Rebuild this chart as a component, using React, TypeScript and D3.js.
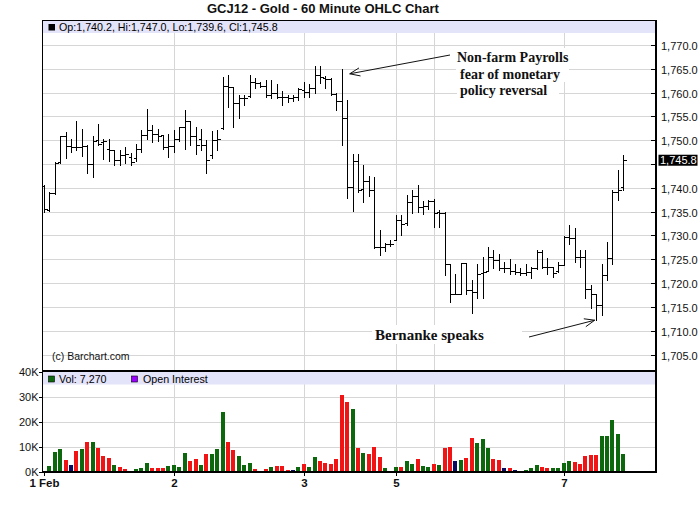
import React from "react";
import * as d3 from "d3";

// Hourly OHLC bars, GCJ12 (COMEX gold, April 2012), 1 Feb - 7 Feb 2012
const opens = [
  1740.4, 1735.4, 1738.9, 1745.4, 1750.8, 1748.8, 1748.6, 1748.5, 1748.8, 1745.0,
  1750.0, 1749.6, 1748.2, 1747.9, 1745.9, 1746.8, 1746.5, 1746.2, 1748.2, 1751.0,
  1752.2, 1751.3, 1751.0, 1748.6, 1748.8, 1750.2, 1752.7, 1754.0, 1750.8, 1750.3,
  1749.0, 1746.8, 1750.1, 1752.6, 1761.3, 1761.1, 1757.8, 1758.9, 1759.2, 1762.3,
  1762.0, 1761.4, 1759.6, 1760.0, 1759.1, 1759.1, 1758.9, 1759.1, 1760.5, 1760.2,
  1760.9, 1763.8, 1763.0, 1762.8, 1759.7, 1758.2, 1754.7, 1740.2, 1745.6, 1739.8,
  1741.4, 1739.6, 1727.6, 1727.6, 1728.3, 1729.0, 1733.2, 1732.6, 1737.0, 1738.2,
  1736.0, 1736.2, 1737.3, 1735.0, 1734.8, 1724.0, 1717.8, 1717.8, 1724.3, 1718.5,
  1718.2, 1722.2, 1722.6, 1725.4, 1724.8, 1723.1, 1723.1, 1722.6, 1722.4, 1722.2,
  1722.4, 1723.1, 1726.6, 1723.4, 1723.4, 1722.6, 1723.8, 1729.7, 1729.4, 1725.5,
  1725.4, 1718.7, 1717.7, 1715.4, 1721.7, 1725.2, 1739.2, 1740.2,
];
const highs = [
  1740.5, 1739.2, 1745.5, 1750.9, 1751.7, 1750.3, 1754.0, 1752.4, 1749.0, 1750.9,
  1753.4, 1750.3, 1750.2, 1748.0, 1747.9, 1748.5, 1747.3, 1749.3, 1752.2, 1756.6,
  1753.1, 1752.4, 1751.0, 1751.4, 1752.1, 1752.8, 1756.3, 1754.0, 1752.8, 1752.4,
  1750.0, 1752.0, 1752.1, 1763.3, 1763.7, 1761.1, 1759.6, 1759.6, 1763.8, 1763.0,
  1762.3, 1762.7, 1762.7, 1761.9, 1760.3, 1759.6, 1759.5, 1761.0, 1762.3, 1761.8,
  1765.6, 1765.6, 1763.5, 1763.1, 1759.9, 1765.0, 1758.4, 1747.2, 1747.2, 1744.8,
  1742.5, 1742.3, 1731.1, 1728.4, 1729.0, 1734.4, 1734.4, 1738.5, 1739.5, 1740.7,
  1737.3, 1737.5, 1737.6, 1735.3, 1735.0, 1724.1, 1722.0, 1724.3, 1724.3, 1720.6,
  1724.1, 1725.5, 1727.6, 1726.9, 1726.2, 1724.5, 1725.0, 1724.1, 1723.1, 1724.1,
  1723.4, 1726.9, 1726.9, 1725.2, 1723.4, 1724.5, 1729.9, 1732.2, 1731.5, 1726.9,
  1726.9, 1719.6, 1717.8, 1724.1, 1728.7, 1739.5, 1743.7, 1747.0,
];
const lows = [
  1735.0, 1735.1, 1738.8, 1745.2, 1746.2, 1747.5, 1748.0, 1746.6, 1743.2, 1742.3,
  1748.9, 1746.0, 1745.6, 1744.7, 1744.9, 1745.2, 1744.9, 1745.7, 1747.6, 1750.2,
  1749.7, 1749.9, 1748.2, 1746.5, 1747.6, 1749.9, 1748.2, 1749.0, 1747.2, 1747.9,
  1743.1, 1746.2, 1747.9, 1752.4, 1757.0, 1752.8, 1754.7, 1757.5, 1759.0, 1761.0,
  1761.2, 1759.0, 1758.8, 1758.8, 1757.5, 1758.1, 1758.3, 1758.5, 1759.1, 1759.0,
  1760.0, 1762.1, 1761.0, 1759.4, 1756.3, 1749.0, 1737.9, 1735.1, 1739.1, 1737.1,
  1738.3, 1727.4, 1726.0, 1726.8, 1727.8, 1729.0, 1730.0, 1732.3, 1734.7, 1735.0,
  1734.5, 1735.5, 1731.8, 1731.8, 1721.7, 1716.1, 1717.7, 1717.7, 1717.7, 1713.8,
  1716.8, 1716.8, 1722.5, 1723.1, 1722.7, 1722.4, 1722.0, 1722.0, 1721.7, 1721.7,
  1721.0, 1722.9, 1723.1, 1722.0, 1721.3, 1722.4, 1723.8, 1728.3, 1724.5, 1723.4,
  1716.8, 1714.7, 1712.2, 1713.3, 1720.6, 1724.1, 1737.4, 1739.6,
];
const closes = [
  1735.6, 1738.9, 1745.2, 1750.8, 1748.8, 1748.6, 1748.5, 1748.8, 1745.0, 1749.8,
  1749.3, 1749.9, 1747.9, 1745.9, 1746.8, 1747.1, 1745.4, 1748.2, 1751.0, 1752.2,
  1751.3, 1750.8, 1748.6, 1748.8, 1750.2, 1752.7, 1754.0, 1750.8, 1749.0, 1749.0,
  1745.8, 1750.1, 1750.2, 1761.3, 1761.1, 1757.8, 1758.9, 1758.9, 1762.3, 1762.0,
  1761.4, 1759.6, 1760.0, 1759.1, 1759.1, 1758.9, 1759.1, 1760.7, 1760.2, 1760.9,
  1763.8, 1763.3, 1762.8, 1759.7, 1758.2, 1754.7, 1740.2, 1745.6, 1739.5, 1741.4,
  1739.6, 1727.6, 1727.6, 1728.3, 1728.3, 1733.2, 1732.5, 1737.0, 1738.2, 1736.0,
  1736.2, 1737.3, 1734.8, 1734.8, 1724.0, 1717.8, 1717.8, 1724.3, 1718.5, 1718.2,
  1722.0, 1722.4, 1725.4, 1724.8, 1723.1, 1723.1, 1722.6, 1722.4, 1722.2, 1722.4,
  1723.1, 1726.6, 1723.4, 1723.4, 1722.2, 1723.8, 1729.7, 1729.4, 1725.5, 1725.4,
  1718.7, 1717.7, 1715.4, 1721.7, 1725.2, 1739.2, 1739.5, 1745.8,
];

// Contracts traded per hour and the tone of each volume bar (g up, r down, n unchanged)
const volumes = [
  0, 2300, 7900, 8900, 4700, 2700, 8300, 8900, 11900, 11900,
  9500, 6300, 5500, 2700, 1900, 1100, 0, 1100, 1500, 3500,
  1500, 1500, 1500, 2300, 2700, 1900, 7500, 4300, 5100, 2700,
  7100, 7100, 9100, 23900, 11900, 8700, 6300, 2700, 3500, 1100,
  0, 1100, 1900, 2300, 2300, 700, 700, 1900, 3100, 1900,
  5900, 4300, 3500, 3100, 5100, 30800, 27900, 25100, 9500, 7500,
  7100, 9900, 5900, 1500, 0, 1900, 1900, 4300, 3100, 5100,
  2300, 1900, 3100, 2700, 9500, 9900, 4300, 4700, 5500, 13500,
  11500, 13100, 9500, 5100, 4700, 1500, 1500, 700, 0, 700,
  1500, 2700, 1900, 1500, 1500, 1500, 3500, 4300, 3900, 3100,
  6300, 6700, 6700, 14300, 14300, 20700, 15100, 7270,
];
const volumeTones = [
  "n", "g", "g", "g", "r", "n", "r", "g", "r", "g",
  "r", "r", "r", "g", "r", "r", "n", "g", "g", "g",
  "r", "r", "r", "g", "g", "g", "g", "r", "r", "g",
  "r", "g", "g", "g", "r", "r", "g", "g", "g", "r",
  "n", "r", "g", "r", "r", "r", "n", "g", "r", "g",
  "g", "r", "r", "r", "r", "r", "r", "g", "r", "g",
  "r", "r", "r", "g", "n", "g", "r", "g", "g", "r",
  "g", "g", "r", "g", "r", "r", "n", "g", "r", "r",
  "g", "g", "g", "r", "r", "n", "r", "n", "n", "g",
  "g", "g", "r", "r", "g", "g", "g", "g", "r", "r",
  "r", "r", "r", "g", "g", "g", "g", "g",
];

// Session starts (bar index) and their date labels; Monday the 6th has a grid line only
const dayStarts = [0, 24, 48, 65, 72, 96];
const dayLabels = ["1 Feb", "2", "3", "5", "", "7"];

const priceTicks = d3.range(1705, 1771, 5);
const volumeTicks = [0, 10000, 20000, 30000, 40000];

const title = "GCJ12 - Gold - 60 Minute OHLC Chart";
const nfpNote = ["Non-farm Payrolls", "fear of monetary", "policy reversal"];
const bernankeNote = "Bernanke speaks";
const nfpBar = 55;
const bernankeBar = 102;

const SANS = "'Liberation Sans', Arial, Helvetica, sans-serif";
const SERIF = "'Liberation Serif', 'Times New Roman', serif";
const GRID = "#d6d6d6";
const BAND = "#e3e3f9";
const TONE: Record<string, string> = { g: "#0d680d", r: "#f01414", n: "#0a0a5e" };

const L = 42;
const R = 655.5;
const TOP = 20;
const SPLIT = 371;
const BOTTOM = 471.7;

function arrowHead(tx: number, ty: number, fx: number, fy: number, len = 11, spread = 0.38) {
  const a = Math.atan2(fy - ty, fx - tx);
  const p1 = [tx + len * Math.cos(a + spread), ty + len * Math.sin(a + spread)];
  const p2 = [tx + len * Math.cos(a - spread), ty + len * Math.sin(a - spread)];
  return `M${p1[0]},${p1[1]}L${tx},${ty}L${p2[0]},${p2[1]}`;
}

export default function App() {
  const n = opens.length;
  const x = d3.scaleLinear().domain([0, n - 1]).range([43.9, 623.3]);
  const y = d3.scaleLinear().domain([1705, 1770]).range([354.5, 45]);
  const yv = d3.scaleLinear().domain([0, 40000]).range([BOTTOM, 371.7]);
  const fmtPrice = d3.format(",.1f");
  const fmtVol = d3.format(",");

  const last = n - 1;
  const lastY = y(closes[last]);

  const nfpTip: [number, number] = [x(nfpBar) + 8, y(highs[nfpBar]) + 5];
  const nfpTail: [number, number] = [450, 55];
  const bbTip: [number, number] = [x(bernankeBar) - 1.5, y(lows[bernankeBar])];
  const bbTail: [number, number] = [529, 337];

  const px = (i: number) => Math.round(x(i)) + 0.5;

  return (
    <svg
      width={700}
      height={512}
      style={{ position: "absolute", left: 0, top: 0, background: "#fff" }}
      fontFamily={SANS}
    >
      <rect x={0} y={0} width={700} height={512} fill="#fff" />

      <text x={207} y={12.5} fontSize={13} fontWeight="bold" fill="#111">
        {title}
      </text>

      {/* grid */}
      {priceTicks.map((t) => (
        <line key={`hg${t}`} x1={L} x2={R} y1={Math.round(y(t)) + 0.5} y2={Math.round(y(t)) + 0.5} stroke={GRID} />
      ))}
      {volumeTicks.slice(1, 4).map((t) => (
        <line key={`vg${t}`} x1={L} x2={R} y1={Math.round(yv(t)) + 0.5} y2={Math.round(yv(t)) + 0.5} stroke={GRID} />
      ))}
      {dayStarts.slice(1).map((d) => (
        <line key={`dg${d}`} x1={px(d)} x2={px(d)} y1={TOP} y2={BOTTOM} stroke={GRID} />
      ))}

      {/* legend bands */}
      <rect x={L} y={TOP} width={R - L} height={13} fill={BAND} />
      <rect x={L} y={SPLIT + 1} width={R - L} height={12.5} fill={BAND} />

      <rect x={48.5} y={24} width={6.5} height={6.5} fill="#000" />
      <text x={59} y={31} fontSize={10.7} fill="#000">
        {`Op:${fmtPrice(opens[last])}, Hi:${fmtPrice(highs[last])}, Lo:${fmtPrice(lows[last])}, Cl:${fmtPrice(closes[last])}`}
      </text>

      <rect x={48.5} y={376} width={6} height={6} fill={TONE.g} stroke="#000" strokeWidth={0.6} />
      <text x={59} y={382.5} fontSize={10.7} fill="#000">{`Vol: ${fmtVol(volumes[last])}`}</text>
      <rect x={131.5} y={376} width={6} height={6} fill="#9a00ff" stroke="#000" strokeWidth={0.6} />
      <text x={143} y={382.5} fontSize={10.7} fill="#000">Open Interest</text>

      {/* annotations */}
      <rect x={453} y={48} width={122} height={17} fill="#fff" />
      <rect x={456} y={65} width={113} height={17} fill="#fff" />
      <rect x={457} y={82} width={102} height={17} fill="#fff" />
      {nfpNote.map((s, k) => (
        <text
          key={s}
          x={457 + (k > 0 ? 3 : 0)}
          y={62 + k * 16.6}
          fontFamily={SERIF}
          fontWeight="bold"
          fontSize={14}
          fill="#111"
        >
          {s}
        </text>
      ))}
      <line x1={nfpTail[0]} y1={nfpTail[1]} x2={nfpTip[0]} y2={nfpTip[1]} stroke="#111" strokeWidth={1} />
      <path d={arrowHead(nfpTip[0], nfpTip[1], nfpTail[0], nfpTail[1])} fill="none" stroke="#111" strokeWidth={1} />

      <rect x={372} y={325} width={150} height={19} fill="#fff" />
      <text x={375} y={339.5} fontFamily={SERIF} fontWeight="bold" fontSize={15} fill="#111">
        {bernankeNote}
      </text>
      <line x1={bbTail[0]} y1={bbTail[1]} x2={bbTip[0]} y2={bbTip[1]} stroke="#111" strokeWidth={1} />
      <path d={arrowHead(bbTip[0], bbTip[1], bbTail[0], bbTail[1])} fill="none" stroke="#111" strokeWidth={1} />

      {/* OHLC bars */}
      <g stroke="#000" strokeWidth={1} shapeRendering="crispEdges">
        {opens.map((o, i) => {
          const cx = px(i);
          const yo = Math.round(y(o)) + 0.5;
          const yc = Math.round(y(closes[i])) + 0.5;
          return (
            <g key={`b${i}`}>
              <line x1={cx} x2={cx} y1={Math.round(y(highs[i]))} y2={Math.round(y(lows[i])) + 1} />
              <line x1={cx - 3} x2={cx} y1={yo} y2={yo} />
              <line x1={cx} x2={cx + 3} y1={yc} y2={yc} />
            </g>
          );
        })}
      </g>

      <text x={52} y={360} fontSize={10.5} fill="#111">(c) Barchart.com</text>

      {/* volume bars */}
      <g shapeRendering="crispEdges">
        {volumes.map((v, i) =>
          v > 0 ? (
            <rect
              key={`v${i}`}
              x={Math.round(x(i)) - 2}
              y={yv(v)}
              width={4}
              height={yv(0) - yv(v)}
              fill={TONE[volumeTones[i]]}
            />
          ) : null
        )}
      </g>

      {/* frame */}
      <g shapeRendering="crispEdges">
        <line x1={L} x2={R} y1={TOP + 0.5} y2={TOP + 0.5} stroke="#000" />
        <line x1={L + 0.5} x2={L + 0.5} y1={TOP} y2={BOTTOM} stroke="#000" />
        <line x1={R} x2={R} y1={TOP} y2={BOTTOM + 1} stroke="#000" strokeWidth={2} />
        <line x1={L} x2={R} y1={SPLIT} y2={SPLIT} stroke="#000" strokeWidth={2} />
        <line x1={L} x2={R + 1} y1={BOTTOM} y2={BOTTOM} stroke="#000" strokeWidth={2} />
      </g>

      {/* price axis */}
      {priceTicks.map((t) => {
        const ty = Math.round(y(t)) + 0.5;
        const hidden = Math.abs(y(t) - lastY) < 8;
        return (
          <g key={`pt${t}`}>
            <line x1={651} x2={656} y1={ty} y2={ty} stroke="#000" shapeRendering="crispEdges" />
            {!hidden && (
              <text x={661} y={ty + 4} fontSize={11} fill="#111">
                {fmtPrice(t)}
              </text>
            )}
          </g>
        );
      })}
      <rect x={658.5} y={lastY - 5.5} width={39} height={11} fill="#000" />
      <text x={660} y={lastY + 4} fontSize={11} fill="#fff">
        {fmtPrice(closes[last])}
      </text>

      {/* volume axis */}
      {volumeTicks.map((t) => {
        const ty = Math.round(yv(t)) + 0.5;
        return (
          <g key={`vt${t}`}>
            <line x1={39} x2={42} y1={ty} y2={ty} stroke="#000" shapeRendering="crispEdges" />
            <text x={38.5} y={ty + 3} fontSize={11} textAnchor="end" fill="#111">
              {`${t / 1000}K`}
            </text>
          </g>
        );
      })}

      {/* date axis */}
      {dayStarts.map((d, k) =>
        dayLabels[k] ? (
          <g key={`dt${d}`}>
            <line x1={px(d)} x2={px(d)} y1={BOTTOM} y2={BOTTOM + 4} stroke="#000" shapeRendering="crispEdges" />
            <text x={px(d)} y={487} fontSize={11.5} fontWeight="bold" textAnchor="middle" fill="#111">
              {dayLabels[k]}
            </text>
          </g>
        ) : null
      )}
    </svg>
  );
}
